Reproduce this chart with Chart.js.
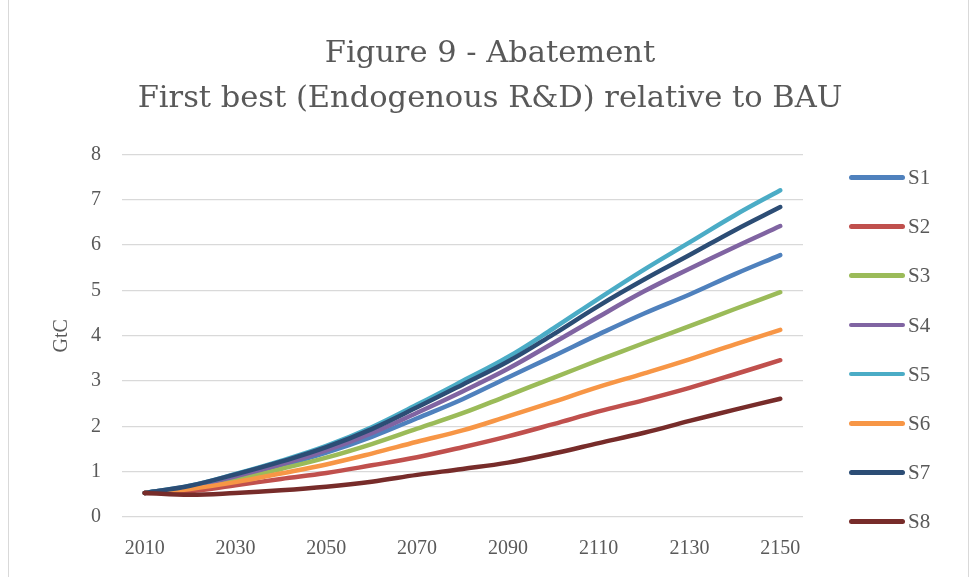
<!DOCTYPE html>
<html>
<head>
<meta charset="utf-8">
<script src="https://cdn.jsdelivr.net/npm/chart.js@4"></script>
<style>
  html, body { margin: 0; padding: 0; background: #fff; overflow: hidden; }
  #wrap { position: absolute; left: 0; top: 0; width: 974px; height: 577px; }
  #marco { position: absolute; left: 8px; top: -2px; width: 959px; height: 600px; border: 1px solid #d9d9d9; pointer-events: none; }
  #leyenda { position: absolute; left: 0; top: 0; font-family: "Liberation Serif", serif; font-size: 21px; color: #595959; }
  .item { position: absolute; height: 24px; line-height: 24px; white-space: nowrap; }
  .item span.linea { position: absolute; left: 0; top: 10px; width: 56px; height: 4.5px; border-radius: 3px; }
  .item span.texto { position: absolute; left: 59px; top: 0; }
</style>
</head>
<body>
<div id="wrap"><canvas id="grafico"></canvas></div>
<div id="marco"></div>
<div id="leyenda"></div>
<script>
// datos
const anios = [2010, 2020, 2030, 2040, 2050, 2060, 2070, 2080, 2090, 2100, 2110, 2120, 2130, 2140, 2150];
const nombres = ['S1', 'S2', 'S3', 'S4', 'S5', 'S6', 'S7', 'S8'];
const colores = ['#4F81BD', '#C0504D', '#9BBB59', '#8064A2', '#4BACC6', '#F79646', '#2C4D75', '#772C2A'];
const yTicks = [0, 1, 2, 3, 4, 5, 6, 7, 8];

const s1 = [0.53, 0.66, 0.88, 1.13, 1.42, 1.77, 2.18, 2.60, 3.08, 3.55, 4.03, 4.49, 4.91, 5.36, 5.78];
const s2 = [0.53, 0.57, 0.70, 0.84, 0.97, 1.14, 1.32, 1.54, 1.78, 2.05, 2.33, 2.58, 2.85, 3.15, 3.46];
const s3 = [0.53, 0.64, 0.83, 1.06, 1.31, 1.61, 1.95, 2.29, 2.68, 3.07, 3.46, 3.84, 4.21, 4.59, 4.96];
const s4 = [0.53, 0.67, 0.90, 1.16, 1.47, 1.85, 2.30, 2.77, 3.27, 3.84, 4.42, 4.98, 5.48, 5.96, 6.42];
const s5 = [0.53, 0.69, 0.95, 1.24, 1.57, 1.98, 2.48, 3.00, 3.53, 4.16, 4.82, 5.46, 6.06, 6.66, 7.21];
const s6 = [0.53, 0.62, 0.77, 0.96, 1.16, 1.40, 1.66, 1.91, 2.22, 2.54, 2.87, 3.17, 3.48, 3.81, 4.13];
const s7 = [0.53, 0.69, 0.94, 1.22, 1.54, 1.94, 2.42, 2.92, 3.43, 4.03, 4.66, 5.24, 5.78, 6.33, 6.84];
const s8 = [0.53, 0.49, 0.53, 0.59, 0.67, 0.78, 0.93, 1.06, 1.20, 1.40, 1.63, 1.86, 2.12, 2.37, 2.61];
const series = [s1, s2, s3, s4, s5, s6, s7, s8];

const fuente = '"Liberation Serif", serif';
const gris = '#595959';

const datasets = series.map(function (valores, i) {
    return {
        label: nombres[i],
        data: valores,
        borderColor: colores[i],
        backgroundColor: colores[i],
        borderWidth: 4.5,
        borderCapStyle: 'round',
        borderJoinStyle: 'round',
        pointRadius: 0,
        tension: 0.4,
        fill: false,
        order: series.length - i
    };
});

new Chart(document.getElementById('grafico'), {
    type: 'line',
    data: { labels: anios, datasets: datasets },
    options: {
        responsive: true,
        maintainAspectRatio: false,
        animation: false,
        layout: { padding: { left: 6, right: 0, top: 0, bottom: -4 } },
        plugins: {
            legend: { display: false },
            tooltip: { enabled: false },
            title: {
                display: true,
                text: ['Figure 9 - Abatement', 'First best (Endogenous R&D) relative to BAU'],
                color: gris,
                font: { family: '"DejaVu Serif", serif', size: 30.5, weight: 'normal', lineHeight: 1.475 },
                padding: { top: 32, bottom: 32.5 }
            }
        },
        scales: {
            x: {
                offset: true,
                grid: { display: false, drawTicks: false },
                border: { display: false },
                ticks: {
                    color: gris,
                    font: { family: fuente, size: 20 },
                    padding: 20,
                    autoSkip: false,
                    maxRotation: 0,
                    callback: function (v, idx) { return idx % 2 === 0 ? anios[idx] : ''; }
                }
            },
            y: {
                min: 0,
                max: 8,
                afterBuildTicks: function (escala) { escala.ticks = yTicks.map(v => ({ value: v })); },
                afterFit: function (escala) { escala.width = 116; },
                grid: { color: '#d9d9d9', lineWidth: 1.3, drawTicks: false },
                border: { display: false },
                ticks: { color: gris, font: { family: fuente, size: 20 }, padding: 21 },
                title: {
                    display: true,
                    text: 'GtC',
                    color: gris,
                    font: { family: fuente, size: 20 },
                    padding: { top: 44, bottom: 0 }
                }
            },
            // espacio reservado para la leyenda
            hueco: {
                type: 'linear',
                position: 'right',
                display: true,
                afterFit: function (escala) { escala.width = 171; },
                grid: { display: false, drawTicks: false },
                border: { display: false },
                ticks: { display: false }
            }
        }
    }
});

// leyenda a la derecha
const leyenda = document.getElementById('leyenda');
nombres.forEach(function (n, i) {
    const div = document.createElement('div');
    div.className = 'item';
    div.style.left = '849px';
    div.style.top = (165 + i * 49.2) + 'px';
    div.innerHTML = '<span class="linea" style="background:' + colores[i] + '"></span><span class="texto">' + n + '</span>';
    leyenda.appendChild(div);
});
</script>
</body>
</html>
